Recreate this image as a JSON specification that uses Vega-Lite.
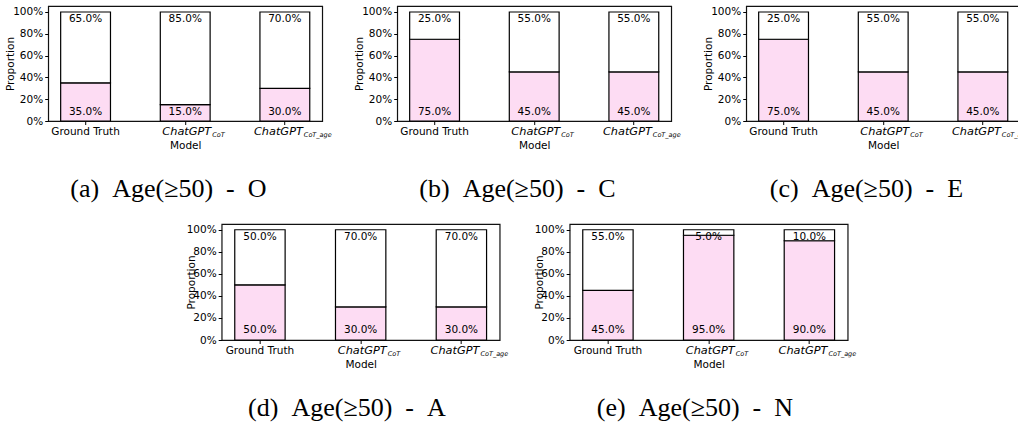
{
  "$schema": "https://vega.github.io/schema/vega-lite/v6.json",
  "background": "white",
  "padding": {"left": 5, "top": 5, "right": 0, "bottom": 5},
  "datasets": {
    "props": [
      {"panel": "a", "model": "Ground Truth", "group": "Yes", "value": 0.35},
      {"panel": "a", "model": "Ground Truth", "group": "No", "value": 0.65},
      {"panel": "a", "model": "CoT", "group": "Yes", "value": 0.15},
      {"panel": "a", "model": "CoT", "group": "No", "value": 0.85},
      {"panel": "a", "model": "CoT_age", "group": "Yes", "value": 0.30},
      {"panel": "a", "model": "CoT_age", "group": "No", "value": 0.70},
      {"panel": "b", "model": "Ground Truth", "group": "Yes", "value": 0.75},
      {"panel": "b", "model": "Ground Truth", "group": "No", "value": 0.25},
      {"panel": "b", "model": "CoT", "group": "Yes", "value": 0.45},
      {"panel": "b", "model": "CoT", "group": "No", "value": 0.55},
      {"panel": "b", "model": "CoT_age", "group": "Yes", "value": 0.45},
      {"panel": "b", "model": "CoT_age", "group": "No", "value": 0.55},
      {"panel": "c", "model": "Ground Truth", "group": "Yes", "value": 0.75},
      {"panel": "c", "model": "Ground Truth", "group": "No", "value": 0.25},
      {"panel": "c", "model": "CoT", "group": "Yes", "value": 0.45},
      {"panel": "c", "model": "CoT", "group": "No", "value": 0.55},
      {"panel": "c", "model": "CoT_age", "group": "Yes", "value": 0.45},
      {"panel": "c", "model": "CoT_age", "group": "No", "value": 0.55},
      {"panel": "d", "model": "Ground Truth", "group": "Yes", "value": 0.50},
      {"panel": "d", "model": "Ground Truth", "group": "No", "value": 0.50},
      {"panel": "d", "model": "CoT", "group": "Yes", "value": 0.30},
      {"panel": "d", "model": "CoT", "group": "No", "value": 0.70},
      {"panel": "d", "model": "CoT_age", "group": "Yes", "value": 0.30},
      {"panel": "d", "model": "CoT_age", "group": "No", "value": 0.70},
      {"panel": "e", "model": "Ground Truth", "group": "Yes", "value": 0.45},
      {"panel": "e", "model": "Ground Truth", "group": "No", "value": 0.55},
      {"panel": "e", "model": "CoT", "group": "Yes", "value": 0.95},
      {"panel": "e", "model": "CoT", "group": "No", "value": 0.05},
      {"panel": "e", "model": "CoT_age", "group": "Yes", "value": 0.90},
      {"panel": "e", "model": "CoT_age", "group": "No", "value": 0.10}
    ]
  },
  "config": {
    "view": {"stroke": "#111", "strokeWidth": 1.2},
    "axis": {"labelFont": "DejaVu Sans", "titleFont": "DejaVu Sans", "labelColor": "#000", "titleColor": "#000", "tickColor": "#000", "grid": false, "domain": false, "titleFontWeight": "normal"},
    "title": {"font": "Liberation Serif", "fontSize": 26, "fontWeight": "normal", "color": "#000", "orient": "bottom", "anchor": "middle", "frame": "bounds", "offset": 25},
    "text": {"font": "DejaVu Sans", "fontSize": 10.5, "color": "#000", "baseline": "middle"},
    "bar": {"stroke": "#000", "strokeWidth": 1.2}
  },
  "spacing": 20,
  "center": true,
  "vconcat": [
    {
      "spacing": 21,
      "hconcat": [
        {
          "width": 274, "height": 115,
          "title": {"text": "(a)\u00a0\u00a0Age(≥50)\u00a0\u00a0-\u00a0\u00a0O"},
          "data": {"name": "props"},
          "transform": [{"filter": "datum.panel == 'a'"}],
          "resolve": {"axis": {"x": "independent", "y": "independent"}},
          "layer": [
            {"mark": {"type": "bar"},
             "encoding": {
               "x": {"field": "model", "type": "nominal", "sort": ["Ground Truth", "CoT", "CoT_age"], "scale": {"paddingInner": 0.5, "paddingOuter": 0.125},
                 "axis": {"title": "Model", "titleFontSize": 10.5, "titlePadding": 3, "labelAngle": 0, "tickSize": 3.5, "labelPadding": 10, "labelBaseline": "alphabetic",
                   "labelExpr": "datum.value == 'Ground Truth' ? 'Ground Truth' : 'ChatGPT'",
                   "labelFontSize": {"condition": {"test": "datum.value == 'Ground Truth'", "value": 10.5}, "value": 11.3},
                   "labelFontStyle": {"condition": {"test": "datum.value == 'Ground Truth'", "value": "normal"}, "value": "italic"},
                   "labelAlign": {"condition": {"test": "datum.value == 'Ground Truth'", "value": "center"}, "value": "right"},
                   "labelOffset": {"condition": [{"test": "datum.value == 'CoT'", "value": 26}, {"test": "datum.value == 'CoT_age'", "value": 18}], "value": 0}}},
               "y": {"field": "value", "type": "quantitative", "stack": "zero", "scale": {"domain": [0, 1.055], "nice": false},
                 "axis": {"title": "Proportion", "titleFontSize": 10.5, "titlePadding": -3, "values": [0, 0.2, 0.4, 0.6, 0.8, 1], "tickCount": 6, "format": ".0%", "labelFontSize": 10.5, "tickSize": 3.5, "labelPadding": 2, "labelOverlap": false}},
               "color": {"field": "group", "type": "nominal", "scale": {"domain": ["Yes", "No"], "range": ["#FDDCF3", "#FFFFFF"]}, "legend": null},
               "order": {"field": "group", "sort": "descending"}
             }},
            {"transform": [{"filter": "datum.group == 'Yes'"}],
             "mark": {"type": "text"},
             "encoding": {
               "x": {"field": "model", "type": "nominal", "sort": ["Ground Truth", "CoT", "CoT_age"],
                 "axis": {"orient": "bottom", "title": null, "ticks": false, "tickSize": 0, "labelAngle": 0, "labelPadding": 15.5, "labelBaseline": "alphabetic", "labelFontSize": 6.5, "labelFontStyle": "italic", "labelAlign": "left",
                   "labelExpr": "datum.value == 'Ground Truth' ? '' : datum.value",
                   "labelOffset": {"condition": {"test": "datum.value == 'CoT'", "value": 27}, "value": 19}}},
               "y": {"datum": 0.087, "axis": null},
               "text": {"field": "value", "type": "quantitative", "format": ".1%"}
             }},
            {"transform": [{"filter": "datum.group == 'No'"}],
             "mark": {"type": "text"},
             "encoding": {
               "x": {"field": "model", "type": "nominal", "sort": ["Ground Truth", "CoT", "CoT_age"], "axis": null},
               "y": {"datum": 0.938, "axis": null},
               "text": {"field": "value", "type": "quantitative", "format": ".1%"}
             }}
          ]
        },
        {
          "width": 274, "height": 115,
          "title": {"text": "(b)\u00a0\u00a0Age(≥50)\u00a0\u00a0-\u00a0\u00a0C"},
          "data": {"name": "props"},
          "transform": [{"filter": "datum.panel == 'b'"}],
          "resolve": {"axis": {"x": "independent", "y": "independent"}},
          "layer": [
            {"mark": {"type": "bar"},
             "encoding": {
               "x": {"field": "model", "type": "nominal", "sort": ["Ground Truth", "CoT", "CoT_age"], "scale": {"paddingInner": 0.5, "paddingOuter": 0.125},
                 "axis": {"title": "Model", "titleFontSize": 10.5, "titlePadding": 3, "labelAngle": 0, "tickSize": 3.5, "labelPadding": 10, "labelBaseline": "alphabetic",
                   "labelExpr": "datum.value == 'Ground Truth' ? 'Ground Truth' : 'ChatGPT'",
                   "labelFontSize": {"condition": {"test": "datum.value == 'Ground Truth'", "value": 10.5}, "value": 11.3},
                   "labelFontStyle": {"condition": {"test": "datum.value == 'Ground Truth'", "value": "normal"}, "value": "italic"},
                   "labelAlign": {"condition": {"test": "datum.value == 'Ground Truth'", "value": "center"}, "value": "right"},
                   "labelOffset": {"condition": [{"test": "datum.value == 'CoT'", "value": 26}, {"test": "datum.value == 'CoT_age'", "value": 18}], "value": 0}}},
               "y": {"field": "value", "type": "quantitative", "stack": "zero", "scale": {"domain": [0, 1.055], "nice": false},
                 "axis": {"title": "Proportion", "titleFontSize": 10.5, "titlePadding": -3, "values": [0, 0.2, 0.4, 0.6, 0.8, 1], "tickCount": 6, "format": ".0%", "labelFontSize": 10.5, "tickSize": 3.5, "labelPadding": 2, "labelOverlap": false}},
               "color": {"field": "group", "type": "nominal", "scale": {"domain": ["Yes", "No"], "range": ["#FDDCF3", "#FFFFFF"]}, "legend": null},
               "order": {"field": "group", "sort": "descending"}
             }},
            {"transform": [{"filter": "datum.group == 'Yes'"}],
             "mark": {"type": "text"},
             "encoding": {
               "x": {"field": "model", "type": "nominal", "sort": ["Ground Truth", "CoT", "CoT_age"],
                 "axis": {"orient": "bottom", "title": null, "ticks": false, "tickSize": 0, "labelAngle": 0, "labelPadding": 15.5, "labelBaseline": "alphabetic", "labelFontSize": 6.5, "labelFontStyle": "italic", "labelAlign": "left",
                   "labelExpr": "datum.value == 'Ground Truth' ? '' : datum.value",
                   "labelOffset": {"condition": {"test": "datum.value == 'CoT'", "value": 27}, "value": 19}}},
               "y": {"datum": 0.087, "axis": null},
               "text": {"field": "value", "type": "quantitative", "format": ".1%"}
             }},
            {"transform": [{"filter": "datum.group == 'No'"}],
             "mark": {"type": "text"},
             "encoding": {
               "x": {"field": "model", "type": "nominal", "sort": ["Ground Truth", "CoT", "CoT_age"], "axis": null},
               "y": {"datum": 0.938, "axis": null},
               "text": {"field": "value", "type": "quantitative", "format": ".1%"}
             }}
          ]
        },
        {
          "width": 274, "height": 115,
          "title": {"text": "(c)\u00a0\u00a0Age(≥50)\u00a0\u00a0-\u00a0\u00a0E"},
          "data": {"name": "props"},
          "transform": [{"filter": "datum.panel == 'c'"}],
          "resolve": {"axis": {"x": "independent", "y": "independent"}},
          "layer": [
            {"mark": {"type": "bar"},
             "encoding": {
               "x": {"field": "model", "type": "nominal", "sort": ["Ground Truth", "CoT", "CoT_age"], "scale": {"paddingInner": 0.5, "paddingOuter": 0.125},
                 "axis": {"title": "Model", "titleFontSize": 10.5, "titlePadding": 3, "labelAngle": 0, "tickSize": 3.5, "labelPadding": 10, "labelBaseline": "alphabetic",
                   "labelExpr": "datum.value == 'Ground Truth' ? 'Ground Truth' : 'ChatGPT'",
                   "labelFontSize": {"condition": {"test": "datum.value == 'Ground Truth'", "value": 10.5}, "value": 11.3},
                   "labelFontStyle": {"condition": {"test": "datum.value == 'Ground Truth'", "value": "normal"}, "value": "italic"},
                   "labelAlign": {"condition": {"test": "datum.value == 'Ground Truth'", "value": "center"}, "value": "right"},
                   "labelOffset": {"condition": [{"test": "datum.value == 'CoT'", "value": 26}, {"test": "datum.value == 'CoT_age'", "value": 18}], "value": 0}}},
               "y": {"field": "value", "type": "quantitative", "stack": "zero", "scale": {"domain": [0, 1.055], "nice": false},
                 "axis": {"title": "Proportion", "titleFontSize": 10.5, "titlePadding": -3, "values": [0, 0.2, 0.4, 0.6, 0.8, 1], "tickCount": 6, "format": ".0%", "labelFontSize": 10.5, "tickSize": 3.5, "labelPadding": 2, "labelOverlap": false}},
               "color": {"field": "group", "type": "nominal", "scale": {"domain": ["Yes", "No"], "range": ["#FDDCF3", "#FFFFFF"]}, "legend": null},
               "order": {"field": "group", "sort": "descending"}
             }},
            {"transform": [{"filter": "datum.group == 'Yes'"}],
             "mark": {"type": "text"},
             "encoding": {
               "x": {"field": "model", "type": "nominal", "sort": ["Ground Truth", "CoT", "CoT_age"],
                 "axis": {"orient": "bottom", "title": null, "ticks": false, "tickSize": 0, "labelAngle": 0, "labelPadding": 15.5, "labelBaseline": "alphabetic", "labelFontSize": 6.5, "labelFontStyle": "italic", "labelAlign": "left",
                   "labelExpr": "datum.value == 'Ground Truth' ? '' : datum.value",
                   "labelOffset": {"condition": {"test": "datum.value == 'CoT'", "value": 27}, "value": 19}}},
               "y": {"datum": 0.087, "axis": null},
               "text": {"field": "value", "type": "quantitative", "format": ".1%"}
             }},
            {"transform": [{"filter": "datum.group == 'No'"}],
             "mark": {"type": "text"},
             "encoding": {
               "x": {"field": "model", "type": "nominal", "sort": ["Ground Truth", "CoT", "CoT_age"], "axis": null},
               "y": {"datum": 0.938, "axis": null},
               "text": {"field": "value", "type": "quantitative", "format": ".1%"}
             }}
          ]
        }
      ]
    },
    {
      "spacing": 24,
      "hconcat": [
        {
          "width": 278, "height": 116,
          "title": {"text": "(d)\u00a0\u00a0Age(≥50)\u00a0\u00a0-\u00a0\u00a0A"},
          "data": {"name": "props"},
          "transform": [{"filter": "datum.panel == 'd'"}],
          "resolve": {"axis": {"x": "independent", "y": "independent"}},
          "layer": [
            {"mark": {"type": "bar"},
             "encoding": {
               "x": {"field": "model", "type": "nominal", "sort": ["Ground Truth", "CoT", "CoT_age"], "scale": {"paddingInner": 0.5, "paddingOuter": 0.13},
                 "axis": {"title": "Model", "titleFontSize": 10.5, "titlePadding": 3, "labelAngle": 0, "tickSize": 3.5, "labelPadding": 10, "labelBaseline": "alphabetic",
                   "labelExpr": "datum.value == 'Ground Truth' ? 'Ground Truth' : 'ChatGPT'",
                   "labelFontSize": {"condition": {"test": "datum.value == 'Ground Truth'", "value": 10.5}, "value": 11.3},
                   "labelFontStyle": {"condition": {"test": "datum.value == 'Ground Truth'", "value": "normal"}, "value": "italic"},
                   "labelAlign": {"condition": {"test": "datum.value == 'Ground Truth'", "value": "center"}, "value": "right"},
                   "labelOffset": {"condition": [{"test": "datum.value == 'CoT'", "value": 26}, {"test": "datum.value == 'CoT_age'", "value": 18}], "value": 0}}},
               "y": {"field": "value", "type": "quantitative", "stack": "zero", "scale": {"domain": [0, 1.052], "nice": false},
                 "axis": {"title": "Proportion", "titleFontSize": 10.5, "titlePadding": -10, "values": [0, 0.2, 0.4, 0.6, 0.8, 1], "tickCount": 6, "format": ".0%", "labelFontSize": 10.5, "tickSize": 3.5, "labelPadding": 2, "labelOverlap": false}},
               "color": {"field": "group", "type": "nominal", "scale": {"domain": ["Yes", "No"], "range": ["#FDDCF3", "#FFFFFF"]}, "legend": null},
               "order": {"field": "group", "sort": "descending"}
             }},
            {"transform": [{"filter": "datum.group == 'Yes'"}],
             "mark": {"type": "text"},
             "encoding": {
               "x": {"field": "model", "type": "nominal", "sort": ["Ground Truth", "CoT", "CoT_age"],
                 "axis": {"orient": "bottom", "title": null, "ticks": false, "tickSize": 0, "labelAngle": 0, "labelPadding": 15.5, "labelBaseline": "alphabetic", "labelFontSize": 6.5, "labelFontStyle": "italic", "labelAlign": "left",
                   "labelExpr": "datum.value == 'Ground Truth' ? '' : datum.value",
                   "labelOffset": {"condition": {"test": "datum.value == 'CoT'", "value": 27}, "value": 19}}},
               "y": {"datum": 0.087, "axis": null},
               "text": {"field": "value", "type": "quantitative", "format": ".1%"}
             }},
            {"transform": [{"filter": "datum.group == 'No'"}],
             "mark": {"type": "text"},
             "encoding": {
               "x": {"field": "model", "type": "nominal", "sort": ["Ground Truth", "CoT", "CoT_age"], "axis": null},
               "y": {"datum": 0.932, "axis": null},
               "text": {"field": "value", "type": "quantitative", "format": ".1%"}
             }}
          ]
        },
        {
          "width": 278, "height": 116,
          "title": {"text": "(e)\u00a0\u00a0Age(≥50)\u00a0\u00a0-\u00a0\u00a0N"},
          "data": {"name": "props"},
          "transform": [{"filter": "datum.panel == 'e'"}],
          "resolve": {"axis": {"x": "independent", "y": "independent"}},
          "layer": [
            {"mark": {"type": "bar"},
             "encoding": {
               "x": {"field": "model", "type": "nominal", "sort": ["Ground Truth", "CoT", "CoT_age"], "scale": {"paddingInner": 0.5, "paddingOuter": 0.13},
                 "axis": {"title": "Model", "titleFontSize": 10.5, "titlePadding": 3, "labelAngle": 0, "tickSize": 3.5, "labelPadding": 10, "labelBaseline": "alphabetic",
                   "labelExpr": "datum.value == 'Ground Truth' ? 'Ground Truth' : 'ChatGPT'",
                   "labelFontSize": {"condition": {"test": "datum.value == 'Ground Truth'", "value": 10.5}, "value": 11.3},
                   "labelFontStyle": {"condition": {"test": "datum.value == 'Ground Truth'", "value": "normal"}, "value": "italic"},
                   "labelAlign": {"condition": {"test": "datum.value == 'Ground Truth'", "value": "center"}, "value": "right"},
                   "labelOffset": {"condition": [{"test": "datum.value == 'CoT'", "value": 26}, {"test": "datum.value == 'CoT_age'", "value": 18}], "value": 0}}},
               "y": {"field": "value", "type": "quantitative", "stack": "zero", "scale": {"domain": [0, 1.052], "nice": false},
                 "axis": {"title": "Proportion", "titleFontSize": 10.5, "titlePadding": -10, "values": [0, 0.2, 0.4, 0.6, 0.8, 1], "tickCount": 6, "format": ".0%", "labelFontSize": 10.5, "tickSize": 3.5, "labelPadding": 2, "labelOverlap": false}},
               "color": {"field": "group", "type": "nominal", "scale": {"domain": ["Yes", "No"], "range": ["#FDDCF3", "#FFFFFF"]}, "legend": null},
               "order": {"field": "group", "sort": "descending"}
             }},
            {"transform": [{"filter": "datum.group == 'Yes'"}],
             "mark": {"type": "text"},
             "encoding": {
               "x": {"field": "model", "type": "nominal", "sort": ["Ground Truth", "CoT", "CoT_age"],
                 "axis": {"orient": "bottom", "title": null, "ticks": false, "tickSize": 0, "labelAngle": 0, "labelPadding": 15.5, "labelBaseline": "alphabetic", "labelFontSize": 6.5, "labelFontStyle": "italic", "labelAlign": "left",
                   "labelExpr": "datum.value == 'Ground Truth' ? '' : datum.value",
                   "labelOffset": {"condition": {"test": "datum.value == 'CoT'", "value": 27}, "value": 19}}},
               "y": {"datum": 0.087, "axis": null},
               "text": {"field": "value", "type": "quantitative", "format": ".1%"}
             }},
            {"transform": [{"filter": "datum.group == 'No'"}],
             "mark": {"type": "text"},
             "encoding": {
               "x": {"field": "model", "type": "nominal", "sort": ["Ground Truth", "CoT", "CoT_age"], "axis": null},
               "y": {"datum": 0.932, "axis": null},
               "text": {"field": "value", "type": "quantitative", "format": ".1%"}
             }}
          ]
        }
      ]
    }
  ]
}
